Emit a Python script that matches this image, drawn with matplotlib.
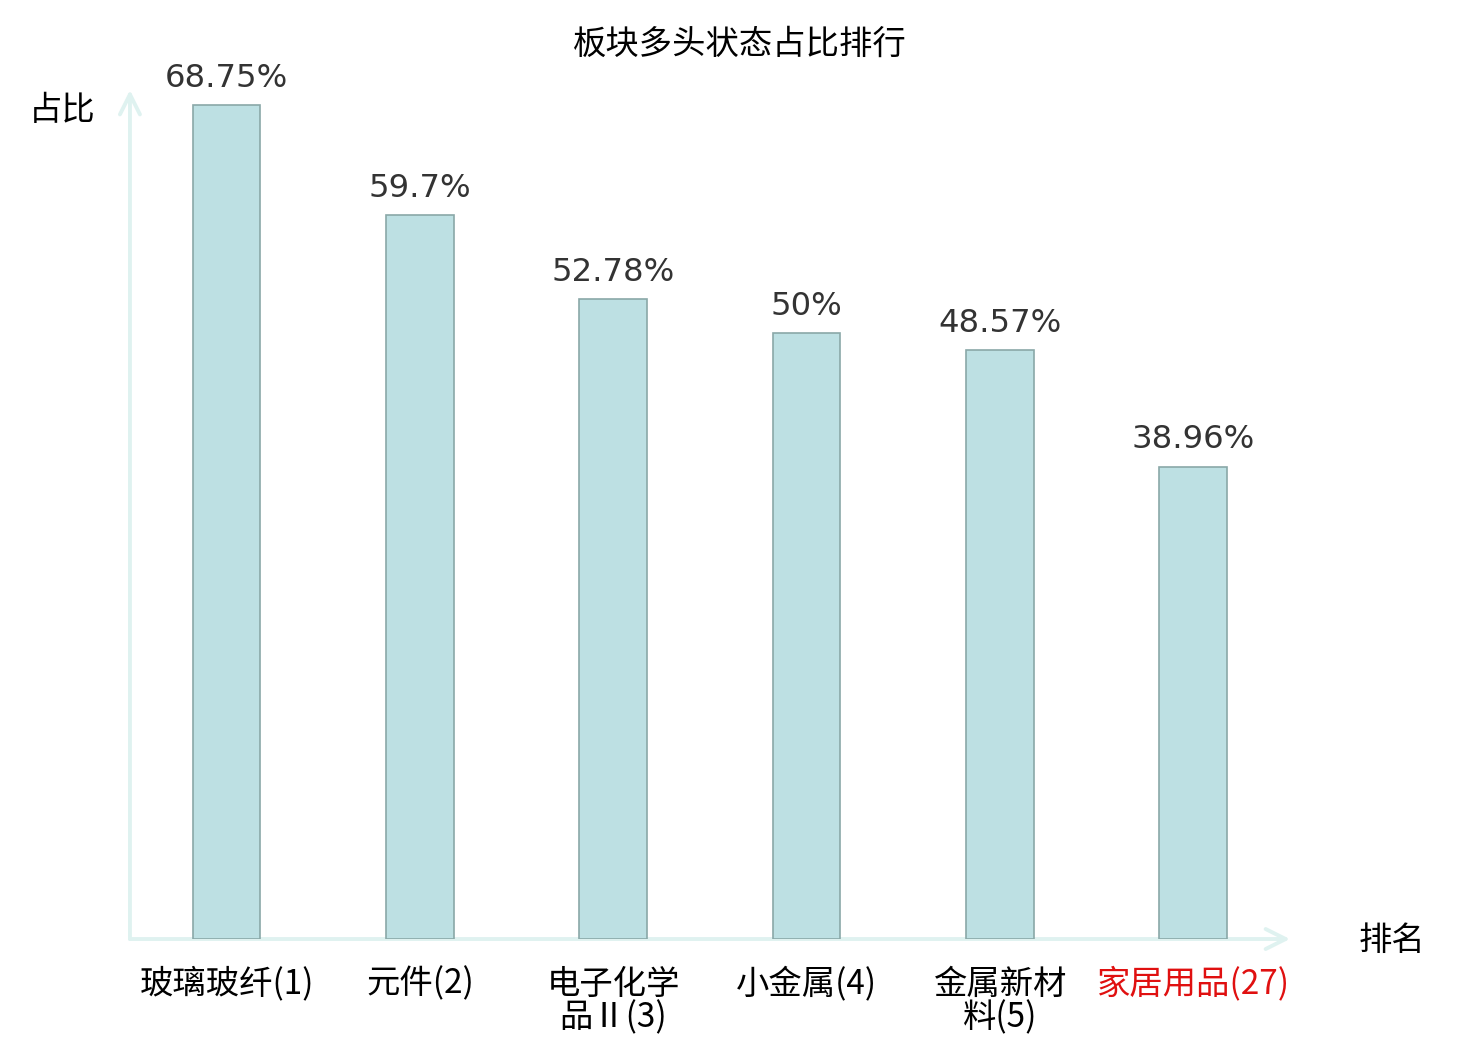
import matplotlib
matplotlib.use("Agg")
import matplotlib.pyplot as plt

plt.rcParams['font.family'] = ['Noto Sans CJK SC', 'DejaVu Sans']

# data
categories = ["玻璃玻纤(1)", "元件(2)", "电子化学\n品Ⅱ(3)", "小金属(4)", "金属新材\n料(5)", "家居用品(27)"]
values = [68.75, 59.7, 52.78, 50, 48.57, 38.96]
value_labels = ["68.75%", "59.7%", "52.78%", "50%", "48.57%", "38.96%"]
label_colors = ["black", "black", "black", "black", "black", "#e01010"]

axis_col = "#dff2f0"

fig = plt.figure(figsize=(7.4, 5.2), dpi=200)
ax = fig.add_axes([0.0878, 0.0971, 0.7838, 0.8163])

x = list(range(len(categories)))
bars = ax.bar(x, values, width=0.35, color="#bde0e3", edgecolor="#8aa8a8", linewidth=0.6, zorder=3)

for b, t in zip(bars, value_labels):
    ax.annotate(t, (b.get_x() + b.get_width() / 2, b.get_height()),
                xytext=(0, 4), textcoords="offset points", ha="center", va="bottom",
                fontsize=11.6, color="#333333", family="DejaVu Sans")

ax.set_xlim(-0.5, 5.5)
ax.set_ylim(0, 70)
ax.set_xticks(x)
ax.set_xticklabels(categories, fontsize=12, linespacing=0.95)
for lab, c in zip(ax.get_xticklabels(), label_colors):
    lab.set_color(c)
ax.set_yticks([])
ax.tick_params(axis="x", length=0, pad=10)
for s in ax.spines.values():
    s.set_visible(False)

# axes as arrows
ax.annotate("", xy=(1, 0), xytext=(0, 0), xycoords="axes fraction",
            arrowprops=dict(arrowstyle="->", color=axis_col, lw=1.4, mutation_scale=18,
                            shrinkA=0, shrinkB=0), zorder=1)
ax.annotate("", xy=(0, 1), xytext=(0, 0), xycoords="axes fraction",
            arrowprops=dict(arrowstyle="->", color=axis_col, lw=1.4, mutation_scale=18,
                            shrinkA=0, shrinkB=0), zorder=1)

ax.text(-0.058, 0.976, "占比", transform=ax.transAxes, ha="center", va="center", fontsize=12)
ax.text(1.088, -0.002, "排名", transform=ax.transAxes, ha="center", va="center", fontsize=12)

fig.text(0.5, 0.957, "板块多头状态占比排行", ha="center", va="center", fontsize=12)

fig.savefig("out.png", dpi=200)
